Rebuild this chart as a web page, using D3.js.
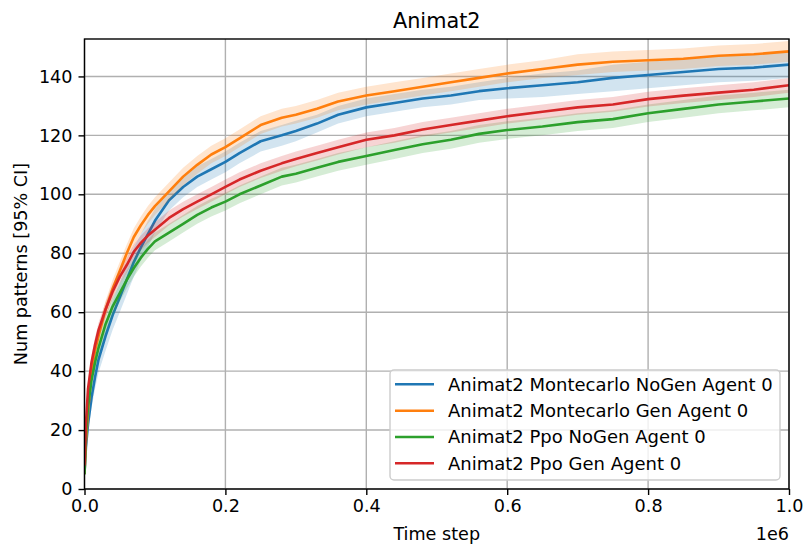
<!DOCTYPE html>
<html>
<head>
<meta charset="utf-8">
<script src="https://cdn.jsdelivr.net/npm/d3@7"></script>
<style>
  html, body { margin: 0; padding: 0; background: #fff; }
  text { font-family: "DejaVu Sans", sans-serif; fill: #000; }
</style>
</head>
<body>
<svg id="chart" width="806" height="546"></svg>
<script>
// ---- data ----
const timeSteps = [0, 0.002, 0.005, 0.01, 0.015, 0.02, 0.03, 0.04, 0.05, 0.06, 0.07, 0.08, 0.09, 0.1,
  0.12, 0.14, 0.16, 0.18, 0.2, 0.22, 0.25, 0.28, 0.3, 0.33, 0.36, 0.4, 0.44, 0.48, 0.52, 0.56,
  0.6, 0.65, 0.7, 0.75, 0.8, 0.85, 0.9, 0.95, 1.0].map(v => v * 1e6);

const seriesNames = [
  "Animat2 Montecarlo NoGen Agent 0",
  "Animat2 Montecarlo Gen Agent 0",
  "Animat2 Ppo NoGen Agent 0",
  "Animat2 Ppo Gen Agent 0"
];
const seriesColors = ["#1f77b4", "#ff7f0e", "#2ca02c", "#d62728"];

const mcNoGen = [5, 14, 22, 31, 38, 44, 52, 59, 65, 71, 77, 82, 86.5, 91,
  98, 102.5, 106, 108.5, 111, 114, 118, 120, 121.5, 124, 127, 129.5, 131, 132.5, 133.5, 135,
  136, 137, 138, 139.5, 140.5, 141.5, 142.5, 143, 144];
const mcGen = [5, 16, 26, 40, 47, 52, 61, 68, 74, 80, 85.5, 89.5, 93, 96,
  101, 106, 110, 113.5, 116, 119, 123.5, 126, 127, 129, 131.5, 133.5, 135, 136.5, 138, 139.5,
  141, 142.5, 144, 145, 145.5, 146, 147, 147.5, 148.5];
const ppoNoGen = [5, 18, 28, 37, 43, 48, 56, 62, 66.5, 71, 75, 78.5, 81.5, 84,
  87, 90, 93, 95.5, 97.5, 100, 103, 106, 107, 109, 111, 113, 115, 117, 118.5, 120.5,
  121.8, 123, 124.5, 125.5, 127.5, 129, 130.5, 131.5, 132.5];
const ppoGen = [8, 22, 34, 43, 49, 54, 61, 67, 72, 76, 80.5, 83.5, 86, 88,
  92, 95, 97.5, 100, 102.5, 105, 108, 110.5, 112, 114, 116, 118.5, 120, 122, 123.5, 125,
  126.5, 128, 129.5, 130.5, 132.3, 133.5, 134.5, 135.5, 137];

// 95% CI half widths
const mcNoGenCI = [2, 3, 3, 3.5, 4, 4.5, 5, 5, 5, 5, 5, 4.5, 4.5, 4,
  3.5, 3.5, 3.5, 3.5, 3.5, 3.5, 3.5, 3.5, 3.5, 3, 3, 3, 3, 3, 3, 3,
  3.5, 4, 4, 4.5, 4.5, 4.5, 4.5, 4.5, 4.5];
const mcGenCI = [2, 2.5, 2.5, 3, 3, 3, 3, 3, 3, 3, 3, 3, 3, 3,
  3, 3, 3, 3, 3, 3, 3, 3, 3, 3, 3, 3, 3, 3, 3, 3,
  3, 3, 3.5, 3.5, 3.5, 3.5, 3.5, 3.5, 3.5];
const ppoNoGenCI = [2, 2.5, 2.5, 2.5, 2.5, 3, 3, 3, 3, 3, 3, 3, 3, 3,
  3, 3, 3, 3, 3, 3, 3, 3, 3, 3, 3, 3, 3, 3, 3, 3,
  3, 3, 3, 3, 3, 3, 3, 3, 3];
const ppoGenCI = [2, 2.5, 2.5, 2.5, 2.5, 2.5, 2.5, 2.5, 2.5, 2.5, 2.5, 2.5, 2.5, 2.5,
  2.5, 2.5, 2.5, 2.5, 2.5, 2.5, 2.5, 2.5, 2.5, 2.5, 2.5, 2.5, 2.5, 2.5, 2.5, 2.5,
  2.5, 2.5, 2.5, 2.5, 2.5, 2.5, 2.5, 2.5, 2.5];

const xTicks = [0, 0.2e6, 0.4e6, 0.6e6, 0.8e6, 1.0e6];
const xTickLabels = ["0.0", "0.2", "0.4", "0.6", "0.8", "1.0"];
const yTicks = [0, 20, 40, 60, 80, 100, 120, 140];

const allMeans = [mcNoGen, mcGen, ppoNoGen, ppoGen];
const allCI = [mcNoGenCI, mcGenCI, ppoNoGenCI, ppoGenCI];

// ---- layout ----
const L = 84.5, R = 789, T = 39, B = 489;
const svg = d3.select("#chart");

const x = d3.scaleLinear().domain([0, 1e6]).range([L, R]);
const y = d3.scaleLinear().domain([0, 152.7]).range([B, T]);

svg.append("defs").append("clipPath").attr("id", "clip")
  .append("rect").attr("x", L).attr("y", T).attr("width", R - L).attr("height", B - T);

// grid
const grid = svg.append("g");
xTicks.forEach(t => grid.append("line")
  .attr("x1", x(t)).attr("x2", x(t)).attr("y1", T).attr("y2", B)
  .attr("stroke", "#b0b0b0").attr("stroke-width", 1.4));
yTicks.forEach(t => grid.append("line")
  .attr("x1", L).attr("x2", R).attr("y1", y(t)).attr("y2", y(t))
  .attr("stroke", "#b0b0b0").attr("stroke-width", 1.4));

// series
const plot = svg.append("g").attr("clip-path", "url(#clip)");
allMeans.forEach((vals, i) => {
  const data = timeSteps.map((t, j) => ({ t, v: vals[j], lo: vals[j] - allCI[i][j], hi: vals[j] + allCI[i][j] }));
  plot.append("path")
    .attr("d", d3.area().x(d => x(d.t)).y0(d => y(d.lo)).y1(d => y(d.hi))(data))
    .attr("fill", seriesColors[i]).attr("fill-opacity", 0.2).attr("stroke", "none");
  plot.append("path")
    .attr("d", d3.line().x(d => x(d.t)).y(d => y(d.v))(data))
    .attr("fill", "none").attr("stroke", seriesColors[i]).attr("stroke-width", 2.6)
    .attr("stroke-linejoin", "round").attr("stroke-linecap", "butt");
});

// axes
const xAxis = d3.axisBottom(x).tickValues(xTicks).tickFormat((d, i) => xTickLabels[i])
  .tickSizeInner(6).tickSizeOuter(0).tickPadding(5);
const gx = svg.append("g").attr("transform", `translate(0,${B})`).call(xAxis);
gx.select(".domain").remove();
gx.selectAll(".tick line").attr("stroke", "#000").attr("stroke-width", 1.4);
gx.selectAll(".tick text").attr("font-size", "17.6px").attr("fill", "#000")
  .attr("font-family", "DejaVu Sans, sans-serif");

const yAxis = d3.axisLeft(y).tickValues(yTicks).tickFormat(d3.format("d"))
  .tickSizeInner(6).tickSizeOuter(0).tickPadding(6);
const gy = svg.append("g").attr("transform", `translate(${L},0)`).call(yAxis);
gy.select(".domain").remove();
gy.selectAll(".tick line").attr("stroke", "#000").attr("stroke-width", 1.4);
gy.selectAll(".tick text").attr("font-size", "17.6px").attr("fill", "#000")
  .attr("font-family", "DejaVu Sans, sans-serif");

// frame
svg.append("rect").attr("x", L).attr("y", T).attr("width", R - L).attr("height", B - T)
  .attr("fill", "none").attr("stroke", "#000").attr("stroke-width", 1.4);

// titles
svg.append("text").attr("x", (L + R) / 2).attr("y", 28).attr("text-anchor", "middle")
  .attr("font-size", "20.8px").text("Animat2");
svg.append("text").attr("x", (L + R) / 2).attr("y", 540).attr("text-anchor", "middle")
  .attr("font-size", "17.6px").text("Time step");
svg.append("text").attr("transform", `translate(27,${(T + B) / 2}) rotate(-90)`)
  .attr("text-anchor", "middle").attr("font-size", "17.6px").text("Num patterns [95% CI]");
svg.append("text").attr("x", R).attr("y", 540).attr("text-anchor", "end")
  .attr("font-size", "17.6px").text("1e6");

// legend
const lg = svg.append("g");
lg.append("rect").attr("x", 390).attr("y", 370).attr("width", 390).attr("height", 110)
  .attr("rx", 4).attr("ry", 4)
  .attr("fill", "#fff").attr("fill-opacity", 0.8).attr("stroke", "#cccccc").attr("stroke-width", 1.4);
const rowY = [384.3, 410.7, 437, 463.3];
seriesNames.forEach((name, i) => {
  lg.append("line").attr("x1", 395).attr("x2", 434).attr("y1", rowY[i]).attr("y2", rowY[i])
    .attr("stroke", seriesColors[i]).attr("stroke-width", 2.6);
  lg.append("text").attr("x", 448).attr("y", rowY[i]).attr("dy", "0.35em")
    .attr("font-size", "18px").text(name);
});
</script>
</body>
</html>
